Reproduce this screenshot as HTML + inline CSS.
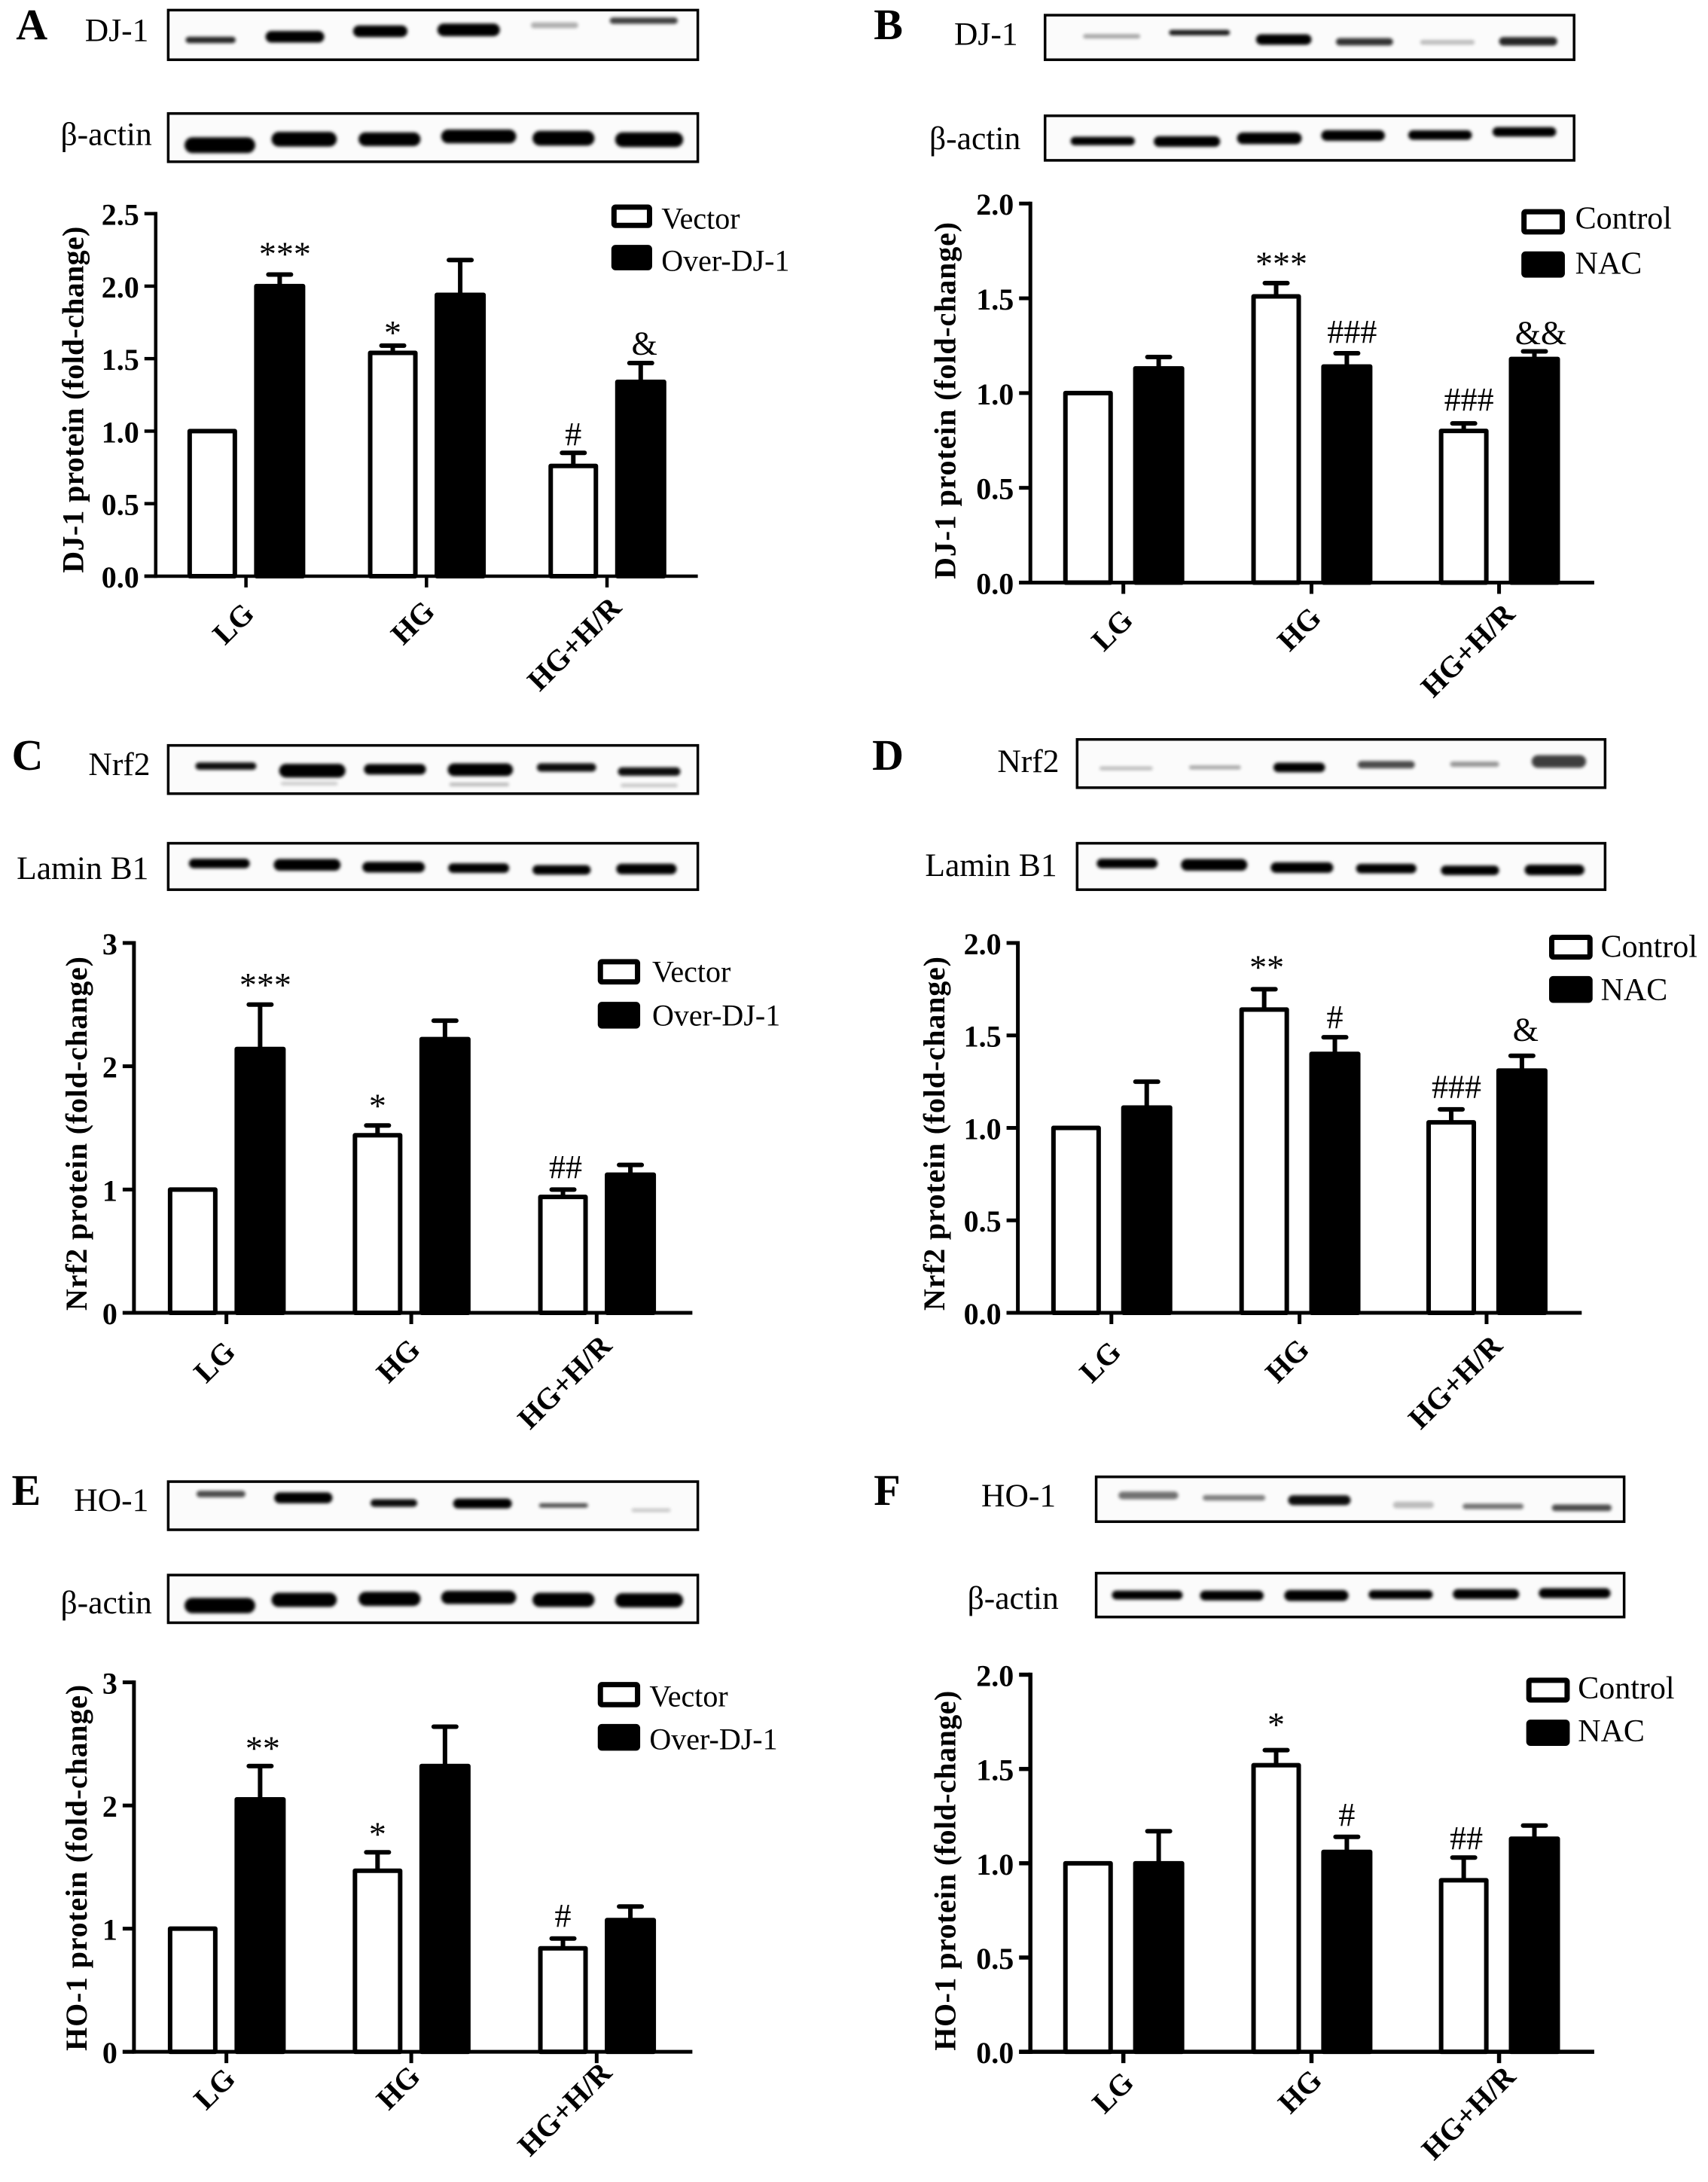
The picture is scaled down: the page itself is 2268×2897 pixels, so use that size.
<!DOCTYPE html>
<html lang="en">
<head>
<meta charset="utf-8">
<title>DJ-1, Nrf2 and HO-1 protein expression</title>
<style>
html,body{margin:0;padding:0;background:#fff}
svg{display:block}
text{font-family:"Liberation Serif",serif;fill:#000}
</style>
</head>
<body>
<svg id="figure" xmlns="http://www.w3.org/2000/svg" width="2268" height="2897" viewBox="0 0 2268 2897">
<defs>
<filter id="soft" x="-20%" y="-80%" width="140%" height="260%"><feGaussianBlur stdDeviation="2.1"/></filter>
</defs>
</svg>
<script>
/* ---------- chart data ---------- */
const categories = ['LG', 'HG', 'HG+H/R'];
const ticks3 = ['0', '1', '2', '3'];
const ticks20 = ['0.0', '0.5', '1.0', '1.5', '2.0'];
const ticks25 = ['0.0', '0.5', '1.0', '1.5', '2.0', '2.5'];

const panelAVector = [1.0, 1.54, 0.76];
const panelAVectorErrTop = [1.0, 1.59, 0.85];
const panelAOver = [2.0, 1.94, 1.34];
const panelAOverErrTop = [2.08, 2.18, 1.47];
const panelAVectorMarks = ['', '*', '#'];
const panelAOverMarks = ['***', '', '&'];

const panelBControl = [1.0, 1.51, 0.80];
const panelBControlErrTop = [1.0, 1.58, 0.84];
const panelBNac = [1.13, 1.14, 1.18];
const panelBNacErrTop = [1.19, 1.21, 1.22];
const panelBControlMarks = ['', '***', '###'];
const panelBNacMarks = ['', '###', '&&'];

const panelCVector = [1.0, 1.44, 0.94];
const panelCVectorErrTop = [1.0, 1.52, 1.0];
const panelCOver = [2.14, 2.22, 1.12];
const panelCOverErrTop = [2.5, 2.37, 1.2];
const panelCVectorMarks = ['', '*', '##'];
const panelCOverMarks = ['***', '', ''];

const panelDControl = [1.0, 1.64, 1.03];
const panelDControlErrTop = [1.0, 1.75, 1.10];
const panelDNac = [1.11, 1.40, 1.31];
const panelDNacErrTop = [1.25, 1.49, 1.39];
const panelDControlMarks = ['', '**', '###'];
const panelDNacMarks = ['', '#', '&'];

const panelEVector = [1.0, 1.47, 0.84];
const panelEVectorErrTop = [1.0, 1.62, 0.92];
const panelEOver = [2.05, 2.32, 1.07];
const panelEOverErrTop = [2.32, 2.64, 1.18];
const panelEVectorMarks = ['', '*', '#'];
const panelEOverMarks = ['**', '', ''];

const panelFControl = [1.0, 1.52, 0.91];
const panelFControlErrTop = [1.0, 1.60, 1.03];
const panelFNac = [1.0, 1.06, 1.13];
const panelFNacErrTop = [1.17, 1.14, 1.20];
const panelFControlMarks = ['', '*', '##'];
const panelFNacMarks = ['', '#', ''];

/* ---------- panel layout (local grid units, mapped to pixels by sx/sy) ---------- */
const panels = [
 {id:'a', letter:'A', lx:28, ly:85, ox:0, oy:0, k:.61, off:62, sw:4.5, lab:[13,52], lgF:40,
  title:'DJ-1 protein (fold-change)', tx:152, tc:870, tl:460,
  axisX:285, top:465, base:1254, end:1282, tickX:[451,783,1115], max:2.5, ticks:ticks25,
  a:panelAVector, aE:panelAVectorErrTop, aM:panelAVectorMarks, aG:[0,23,17], b:panelAOver, bE:panelAOverErrTop, bM:panelAOverMarks, bG:[39,0,19],
  names:['Vector','Over-DJ-1'], lgX:1123, lgW:75, lgY:[450,538], lgH:[48,52], lgT:1215, lgB:[500,592],
  blots:[
   {label:'DJ-1', endX:272, base:92, x1:308, x2:1282, y1:22, y2:130, bands:[[340,432,87,12,.85],[487,595,80,22,1],[648,748,68,22,1],[803,918,65,24,1],[975,1062,55,11,.3],[1120,1245,45,12,.75]]},
   {label:'β-actin', endX:278, base:318, x1:308, x2:1282, y1:247, y2:352, bands:[[338,468,316,30,1],[498,618,303,28,1],[658,772,303,26,1],[810,948,297,26,1],[978,1092,301,28,1],[1130,1255,304,28,1]]}
  ]},
 {id:'b', letter:'B', lx:35, ly:85, ox:1134, oy:0, k:.61, off:65, sw:5, lab:[15,52], lgF:42,
  title:'DJ-1 protein (fold-change)', tx:185, tc:872, tl:474,
  axisX:323, top:443, base:1268, end:1360, tickX:[494,840,1185], max:2, ticks:ticks20,
  a:panelBControl, aE:panelBControlErrTop, aM:panelBControlMarks, aG:[0,37,28], b:panelBNac, bE:panelBNacErrTop, bM:panelBNacMarks, bG:[0,23,16],
  names:['Control','NAC'], lgX:1226, lgW:80, lgY:[460,552], lgH:[52,54], lgT:1325, lgB:[500,598],
  blots:[
   {label:'DJ-1', endX:300, base:100, x1:350, x2:1323, y1:33, y2:130, bands:[[420,525,79,8,.35],[578,690,71,10,.9],[738,840,86,20,1],[885,990,91,14,.8],[1040,1140,92,9,.25],[1185,1292,90,16,.85]]},
   {label:'β-actin', endX:305, base:327, x1:350, x2:1323, y1:252, y2:349, bands:[[397,515,307,16,1],[550,672,308,20,1],[703,822,301,22,1],[858,975,295,20,1],[1018,1135,294,18,1],[1173,1290,287,18,1]]}
  ]},
 {id:'c', letter:'C', lx:20, ly:118, ox:0, oy:950, k:.61, off:62, sw:5, lab:[14,54], lgF:40,
  title:'Nrf2 protein (fold-change)', tx:158, tc:910, tl:470,
  axisX:245, top:495, base:1300, end:1272, tickX:[415,755,1096], max:3, ticks:ticks3,
  a:panelCVector, aE:panelCVectorErrTop, aM:panelCVectorMarks, aG:[0,37,25], b:panelCOver, bE:panelCOverErrTop, bM:panelCOverMarks, bG:[37,0,0],
  names:['Vector','Over-DJ-1'], lgX:1098, lgW:78, lgY:[535,628], lgH:[52,55], lgT:1198, lgB:[582,677],
  blots:[
   {label:'Nrf2', endX:275, base:132, x1:308, x2:1282, y1:65, y2:170, bands:[[358,470,110,14,.95],[512,634,120,26,1],[668,782,117,20,1],[822,942,118,24,1],[986,1095,113,16,.95],[1135,1250,122,16,.95],[515,620,148,6,.18],[825,935,150,6,.25],[1140,1245,152,6,.2]]},
   {label:'Lamin B1', endX:272, base:358, x1:308, x2:1282, y1:278, y2:379, bands:[[346,458,322,18,1],[502,625,325,22,1],[665,780,330,20,1],[823,935,332,18,1],[978,1085,336,18,1],[1132,1243,334,20,1]]}
  ]},
 {id:'d', letter:'D', lx:32, ly:118, ox:1134, oy:950, k:.61, off:65, sw:5, lab:[15,54], lgF:42,
  title:'Nrf2 protein (fold-change)', tx:165, tc:910, tl:470,
  axisX:300, top:495, base:1300, end:1337, tickX:[472,818,1162], max:2, ticks:ticks20,
  a:panelDControl, aE:panelDControlErrTop, aM:panelDControlMarks, aG:[0,42,25], b:panelDNac, bE:panelDNacErrTop, bM:panelDNacMarks, bG:[0,20,33],
  names:['Control','NAC'], lgX:1277, lgW:80, lgY:[482,572], lgH:[51,55], lgT:1372, lgB:[528,622],
  blots:[
   {label:'Nrf2', endX:376, base:125, x1:409, x2:1380, y1:52, y2:157, bands:[[450,548,115,6,.25],[615,710,113,7,.35],[770,865,113,18,1],[925,1030,107,14,.7],[1095,1185,106,10,.4],[1245,1345,100,24,.75]]},
   {label:'Lamin B1', endX:372, base:352, x1:409, x2:1380, y1:278, y2:379, bands:[[445,557,322,18,1],[600,722,325,22,1],[765,880,331,20,1],[922,1033,333,18,1],[1078,1185,337,18,1],[1232,1342,336,20,1]]}
  ]},
 {id:'e', letter:'E', lx:20, ly:155, ox:0, oy:1900, k:.633, off:62, sw:5, lab:[14,38], lgF:40,
  title:'HO-1 protein (fold-change)', tx:158, tc:916, tl:486,
  axisX:245, top:527, base:1302, end:1272, tickX:[415,755,1096], max:3, ticks:ticks3,
  a:panelEVector, aE:panelEVectorErrTop, aM:panelEVectorMarks, aG:[0,33,25], b:panelEOver, bE:panelEOverErrTop, bM:panelEOverMarks, bG:[32,0,0],
  names:['Vector','Over-DJ-1'], lgX:1098, lgW:78, lgY:[531,619], lgH:[50,53], lgT:1193, lgB:[580,670],
  blots:[
   {label:'HO-1', endX:272, base:170, x1:308, x2:1282, y1:106, y2:207, bands:[[360,450,132,12,.7],[503,610,140,20,1],[680,766,151,14,.95],[832,940,152,18,1],[990,1080,156,8,.7],[1160,1232,166,6,.2]]},
   {label:'β-actin', endX:278, base:385, x1:308, x2:1282, y1:302, y2:402, bands:[[338,468,366,28,1],[498,618,354,26,1],[658,772,352,26,1],[810,948,349,24,1],[978,1092,354,26,1],[1130,1255,355,26,1]]}
  ]},
 {id:'f', letter:'F', lx:35, ly:155, ox:1134, oy:1900, k:.633, off:65, sw:5.5, lab:[16,43], lgF:42,
  title:'HO-1 protein (fold-change)', tx:185, tc:922, tl:478,
  axisX:323, top:511, base:1302, end:1360, tickX:[494,840,1185], max:2, ticks:ticks20,
  a:panelFControl, aE:panelFControlErrTop, aM:panelFControlMarks, aG:[0,48,18], b:panelFNac, bE:panelFNacErrTop, bM:panelFNacMarks, bG:[0,23,0],
  names:['Control','NAC'], lgX:1235, lgW:80, lgY:[522,610], lgH:[49,52], lgT:1330, lgB:[563,653],
  blots:[
   {label:'HO-1', endX:370, base:160, x1:444, x2:1415, y1:96, y2:190, bands:[[485,595,135,14,.55],[640,755,140,10,.5],[797,912,145,18,.95],[990,1065,155,12,.25],[1118,1230,158,10,.55],[1282,1392,161,12,.7]]},
   {label:'β-actin', endX:375, base:375, x1:444, x2:1415, y1:298, y2:390, bands:[[473,603,344,16,1],[635,752,345,18,1],[790,908,345,20,1],[945,1063,343,16,1],[1100,1222,342,18,1],[1258,1390,340,18,1]]}
  ]}
];

/* ---------- drawing ---------- */
const NS = 'http://www.w3.org/2000/svg';
const root = document.getElementById('figure');
function make(tag, attrs, parent, txt) {
  const el = document.createElementNS(NS, tag);
  for (const key in attrs) el.setAttribute(key, attrs[key]);
  if (txt !== undefined) el.textContent = txt;
  parent.appendChild(el);
  return el;
}
function drawBar(g, p, i, values, errTops, marks, gaps, seriesName, offset, filled) {
  const sx = z => p.ox + 1 + z * .722;
  const sy = z => p.oy + z * p.k;
  const yScale = v => sy(p.base) - (v / p.max) * (sy(p.base) - sy(p.top));
  const cx = sx(p.tickX[i] + offset);
  const half = filled ? 31 : 30;
  const barTop = yScale(values[i]);
  const errTop = yScale(errTops[i]);
  if (errTops[i] > values[i]) {
    const stem = make('line', {x1:cx, x2:cx, y1:barTop, y2:errTop, stroke:'#000', 'stroke-width':6}, g);
    
    
    const cap = make('line', {x1:cx - 15, x2:cx + 15, y1:errTop, y2:errTop, stroke:'#000', 'stroke-width':6, 'stroke-linecap':'round'}, g);
    
    
  }
  const bar = make('rect', {x:cx - half, y:barTop, width:2 * half, height:sy(p.base) - barTop, fill:filled ? '#000' : '#fff', stroke:'#000', 'stroke-width':6, 'stroke-linejoin':'round'}, g);
  
  
  if (marks[i]) {
    const mark = marks[i];
    const star = mark[0] === '*';
    const dx = (mark.length - 1) * 3.5 + (mark[0] === '&' ? 5 : 0);
    const by = errTop - gaps[i] * p.k + (star ? 12 : 0);
    const note = make('text', {x:cx + dx, y:by, 'text-anchor':'middle', 'font-size':star ? 46 : 44}, g, mark);
    
    
  }
}
panels.forEach(p => {
  const sx = z => p.ox + 1 + z * .722;
  const sy = z => p.oy + z * p.k;
  const yScale = v => sy(p.base) - (v / p.max) * (sy(p.base) - sy(p.top));

  const g = make('g', {}, root);
  
  

  const letter = make('text', {x:sx(p.lx), y:sy(p.ly), 'font-size':58, 'font-weight':'bold'}, g, p.letter);
  
  

  /* blots */
  p.blots.forEach((b, bi) => {
    const bg = make('g', {}, g);
    
    
    const lab = make('text', {x:sx(b.endX), y:sy(b.base) - 1.5, 'text-anchor':'end', 'font-size':43.5}, bg, b.label);
    
    
    const frame = make('rect', {x:sx(b.x1), y:sy(b.y1), width:sx(b.x2) - sx(b.x1), height:sy(b.y2) - sy(b.y1), fill:'#fbfbfb', stroke:'#000', 'stroke-width':3.5}, bg);
    
    
    b.bands.forEach(r => {
      const bh = Math.max(5, r[3] * p.k * 1.15);
      const band = make('rect', {x:sx(r[0]), y:sy(r[2]) - bh / 2, width:sx(r[1]) - sx(r[0]), height:bh, rx:bh / 2, fill:'#000', opacity:r[4], filter:'url(#soft)'}, bg);
      
      
    });
  });

  /* y axis */
  const yLine = make('line', {x1:sx(p.axisX), x2:sx(p.axisX), y1:sy(p.top) - p.sw / 2, y2:sy(p.base) + p.sw / 2, stroke:'#000', 'stroke-width':p.sw}, g);
  
  
  p.ticks.forEach((t, ti) => {
    const v = p.max * ti / (p.ticks.length - 1);
    const tk = make('line', {x1:sx(p.axisX) - 15, x2:sx(p.axisX), y1:yScale(v), y2:yScale(v), stroke:'#000', 'stroke-width':p.sw}, g);
    
    
    const tl = make('text', {x:sx(p.axisX) - 22, y:yScale(v) + 15, 'text-anchor':'end', 'font-size':40, 'font-weight':'bold'}, g, t);
    
    
  });
  const title = make('text', {transform:'translate(' + sx(p.tx) + ' ' + sy(p.tc) + ') rotate(-90)', 'text-anchor':'middle', 'font-size':40, 'font-weight':'bold', textLength:p.tl, lengthAdjust:'spacing'}, g, p.title);
  
  

  /* bars */
  categories.forEach((c, i) => {
    drawBar(g, p, i, p.a, p.aE, p.aM, p.aG, p.names[0], -p.off, false);
    drawBar(g, p, i, p.b, p.bE, p.bM, p.bG, p.names[1], p.off, true);
  });

  /* x axis */
  const xLine = make('line', {x1:sx(p.axisX) - 15, x2:sx(p.end), y1:sy(p.base), y2:sy(p.base), stroke:'#000', 'stroke-width':p.sw}, g);
  
  
  categories.forEach((c, i) => {
    const tx = sx(p.tickX[i]);
    const tk = make('line', {x1:tx, x2:tx, y1:sy(p.base), y2:sy(p.base) + 15, stroke:'#000', 'stroke-width':p.sw}, g);
    
    
    const ax = tx + p.lab[0] + (i === 2 ? 8 : 0);
    const ay = sy(p.base) + p.lab[1] - (i === 2 ? 8 : i === 1 ? 3 : 0);
    const lb = make('text', {transform:'translate(' + ax + ' ' + ay + ') rotate(-45)', 'text-anchor':'end', 'font-size':40, 'font-weight':'bold'}, g, c);
    
    
  });

  /* legend */
  p.names.forEach((n, i) => {
    const box = make('rect', {x:sx(p.lgX) + 3.5, y:sy(p.lgY[i]) - 3 + 3.5, width:sx(p.lgX + p.lgW) - sx(p.lgX) - 7, height:p.lgH[i] * p.k + 2 - 7, rx:2, fill:i ? '#000' : '#fff', stroke:'#000', 'stroke-width':7}, g);
    
    
    const lt = make('text', {x:sx(p.lgT), y:sy(p.lgB[i]) - 1.5, 'font-size':p.lgF}, g, n);
    
    
  });
});
</script>
</body>
</html>
